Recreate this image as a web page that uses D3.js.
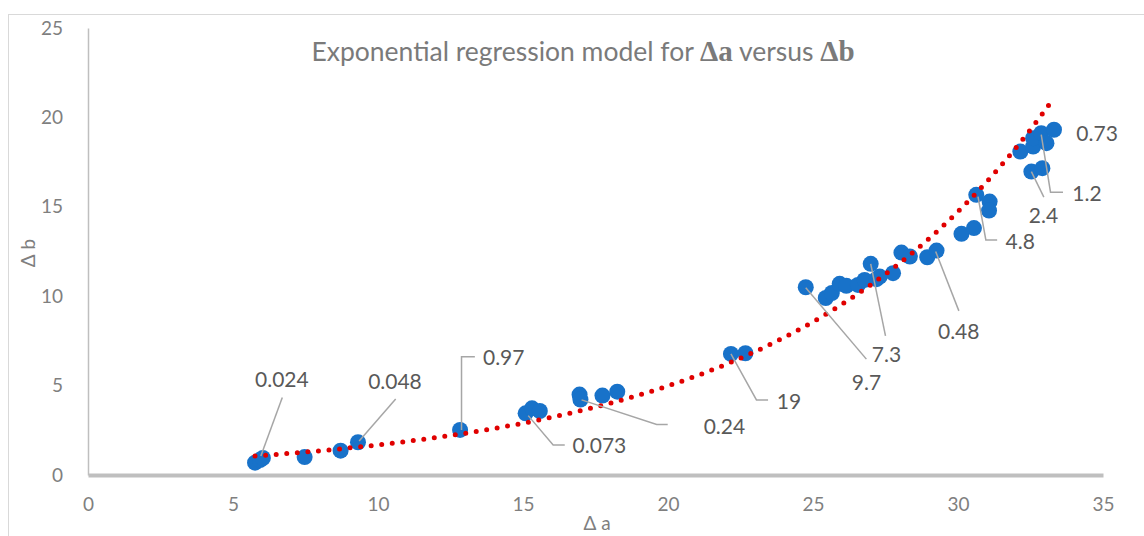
<!DOCTYPE html>
<html>
<head>
<meta charset="utf-8">
<script src="https://cdn.jsdelivr.net/npm/d3@7"></script>
<style>
  body { margin: 0; background: #fff; }
  text { font-family: Lato, "Open Sans", sans-serif; }
</style>
</head>
<body>
<svg id="chart"></svg>
<script>
//DATA
const deltaA = [5.76, 5.93, 6.03, 7.47, 8.71, 9.31, 12.83, 15.09, 15.31, 15.58, 16.95, 16.98, 17.74, 18.25,
  22.17, 22.67, 24.75, 25.44, 25.65, 25.92, 26.15, 26.55, 26.78, 26.99, 27.19, 27.3, 27.76, 28.05, 28.34,
  28.94, 29.26, 30.12, 30.55, 30.63, 31.09, 31.07, 32.15, 32.59, 32.59, 32.87, 33.05, 33.31, 32.53, 32.91];
const deltaB = [0.69, 0.84, 0.95, 1.0, 1.36, 1.83, 2.52, 3.45, 3.73, 3.58, 4.5, 4.22, 4.44, 4.66,
  6.77, 6.81, 10.5, 9.9, 10.18, 10.69, 10.58, 10.63, 10.91, 11.81, 10.95, 11.1, 11.29, 12.44, 12.22,
  12.18, 12.55, 13.49, 13.81, 15.67, 15.29, 14.79, 18.09, 18.37, 18.84, 19.12, 18.56, 19.31, 16.97, 17.16];

const xTicks = [0, 5, 10, 15, 20, 25, 30, 35];
const yTicks = [0, 5, 10, 15, 20, 25];

// data labels: text, leader line (data units), text anchor point (data units)
const dataLabels = [
  {text: "0.024", line: [[5.96, 1.06], [6.70, 4.33]], at: [5.76, 5.36]},
  {text: "0.048", line: [[9.35, 1.90], [10.61, 4.25]], at: [9.66, 5.22]},
  {text: "0.97",  line: [[12.88, 2.52], [12.88, 6.62], [13.34, 6.62]], at: [13.62, 6.60]},
  {text: "0.073", line: [[15.18, 3.32], [16.04, 1.68], [16.44, 1.68]], at: [16.71, 1.68]},
  {text: "0.24",  line: [[17.02, 4.20], [19.61, 2.83], [19.99, 2.83]], at: [21.23, 2.74]},
  {text: "19",    line: [[22.17, 6.77], [23.05, 4.20], [23.45, 4.20]], at: [23.75, 4.14]},
  {text: "9.7",   line: [[24.75, 10.47], [26.84, 6.48]], at: [26.34, 5.15]},
  {text: "7.3",   line: [[26.99, 11.81], [27.50, 7.78]], at: [27.03, 6.72]},
  {text: "0.48",  line: [[29.23, 12.50], [30.03, 9.18]], at: [29.31, 8.02]},
  {text: "4.8",   line: [[30.69, 15.57], [30.96, 13.15], [31.35, 13.15]], at: [31.64, 13.06]},
  {text: "2.4",   line: [[32.53, 16.97], [32.96, 15.54]], at: [32.44, 14.49]},
  {text: "1.2",   line: [[32.87, 19.03], [33.19, 15.82], [33.62, 15.82]], at: [33.94, 15.76]},
  {text: "0.73",  line: [], at: [34.08, 19.12]}
];

//LAYOUT
const width = 1144;
const height = 536;
const plot = {left: 88, right: 1103, top: 28, bottom: 475};

const xScale = d3.scaleLinear().domain([0, 35]).range([plot.left, plot.right]);
const yScale = d3.scaleLinear().domain([0, 25]).range([plot.bottom, plot.top]);

const chart = d3.select("#chart")
  .attr("width", width)
  .attr("height", height);

chart.append("rect")
  .attr("x", 8.5).attr("y", 14.5)
  .attr("width", width + 20).attr("height", height + 20)
  .attr("fill", "#fff")
  .attr("stroke", "#d9d9d9");

//title
const title = chart.append("text")
  .attr("x", 583).attr("y", 61)
  .attr("text-anchor", "middle")
  .attr("fill", "#7a7a7a")
  .style("font-size", "26.5px");
title.append("tspan").text("Exponential regression model for ");
title.append("tspan").text("Δa").style("font-family", "'Liberation Serif', serif").style("font-weight", "bold").style("font-size", "29px");
title.append("tspan").text(" versus ");
title.append("tspan").text("Δb").style("font-family", "'Liberation Serif', serif").style("font-weight", "bold").style("font-size", "29px");

//axes
const xAxis = chart.append("g")
  .attr("transform", "translate(0," + plot.bottom + ")")
  .call(d3.axisBottom(xScale).tickValues(xTicks).tickSize(0).tickPadding(23).tickFormat(d3.format("d")));
xAxis.select(".domain").attr("stroke", "#bfbfbf").attr("stroke-width", 4);

const yAxis = chart.append("g")
  .attr("transform", "translate(" + plot.left + ",0)")
  .call(d3.axisLeft(yScale).tickValues(yTicks).tickSize(0).tickPadding(25).tickFormat(d3.format("d")));
yAxis.select(".domain").attr("stroke", "#bfbfbf").attr("stroke-width", 1.5);

chart.selectAll(".tick text")
  .attr("fill", "#7f7f7f")
  .style("font-size", "19px")
  .style("font-family", "Lato, sans-serif");

//axis titles
chart.append("text")
  .attr("x", 597).attr("y", 530)
  .attr("text-anchor", "middle")
  .attr("fill", "#7f7f7f")
  .style("font-size", "19px")
  .text("Δ a");

chart.append("text")
  .attr("transform", "translate(35,253) rotate(-90)")
  .attr("text-anchor", "middle")
  .attr("fill", "#7f7f7f")
  .style("font-size", "19px")
  .text("Δ b");

//points
const points = deltaA.map((a, i) => ({a: a, b: deltaB[i]}));

chart.append("g").selectAll("circle")
  .data(points).enter().append("circle")
  .attr("cx", d => xScale(d.a))
  .attr("cy", d => yScale(d.b))
  .attr("r", 8)
  .attr("fill", "#1872c9");

//exponential trendline (least squares on ln b)
const mx = d3.mean(points, d => d.a);
const my = d3.mean(points, d => Math.log(d.b));
const slope = d3.sum(points, d => (d.a - mx) * (Math.log(d.b) - my)) / d3.sum(points, d => (d.a - mx) * (d.a - mx));
const coef = Math.exp(my - slope * mx);
const xr = d3.extent(points, d => d.a);
const trend = d3.range(0, 101).map(i => {
  let a = xr[0] + (xr[1] - xr[0]) * i / 100;
  return [a, coef * Math.exp(slope * a)];
});

chart.append("path")
  .datum(trend)
  .attr("fill", "none")
  .attr("stroke", "#e00000")
  .attr("stroke-width", 5)
  .attr("stroke-linecap", "round")
  .attr("stroke-dasharray", "0 10.6")
  .attr("d", d3.line().x(d => xScale(d[0])).y(d => yScale(d[1])));

//data labels
const lbl = chart.append("g");
dataLabels.forEach(function(l) {
  if (l.line.length) {
    lbl.append("path")
      .datum(l.line)
      .attr("fill", "none")
      .attr("stroke", "#a6a6a6")
      .attr("stroke-width", 1.5)
      .attr("d", d3.line().x(d => xScale(d[0])).y(d => yScale(d[1])));
  }
  lbl.append("text")
    .attr("x", xScale(l.at[0]))
    .attr("y", yScale(l.at[1]))
    .attr("dy", "0.36em")
    .attr("fill", "#595959")
    .style("font-size", "21px")
    .text(l.text);
});
</script>
</body>
</html>
